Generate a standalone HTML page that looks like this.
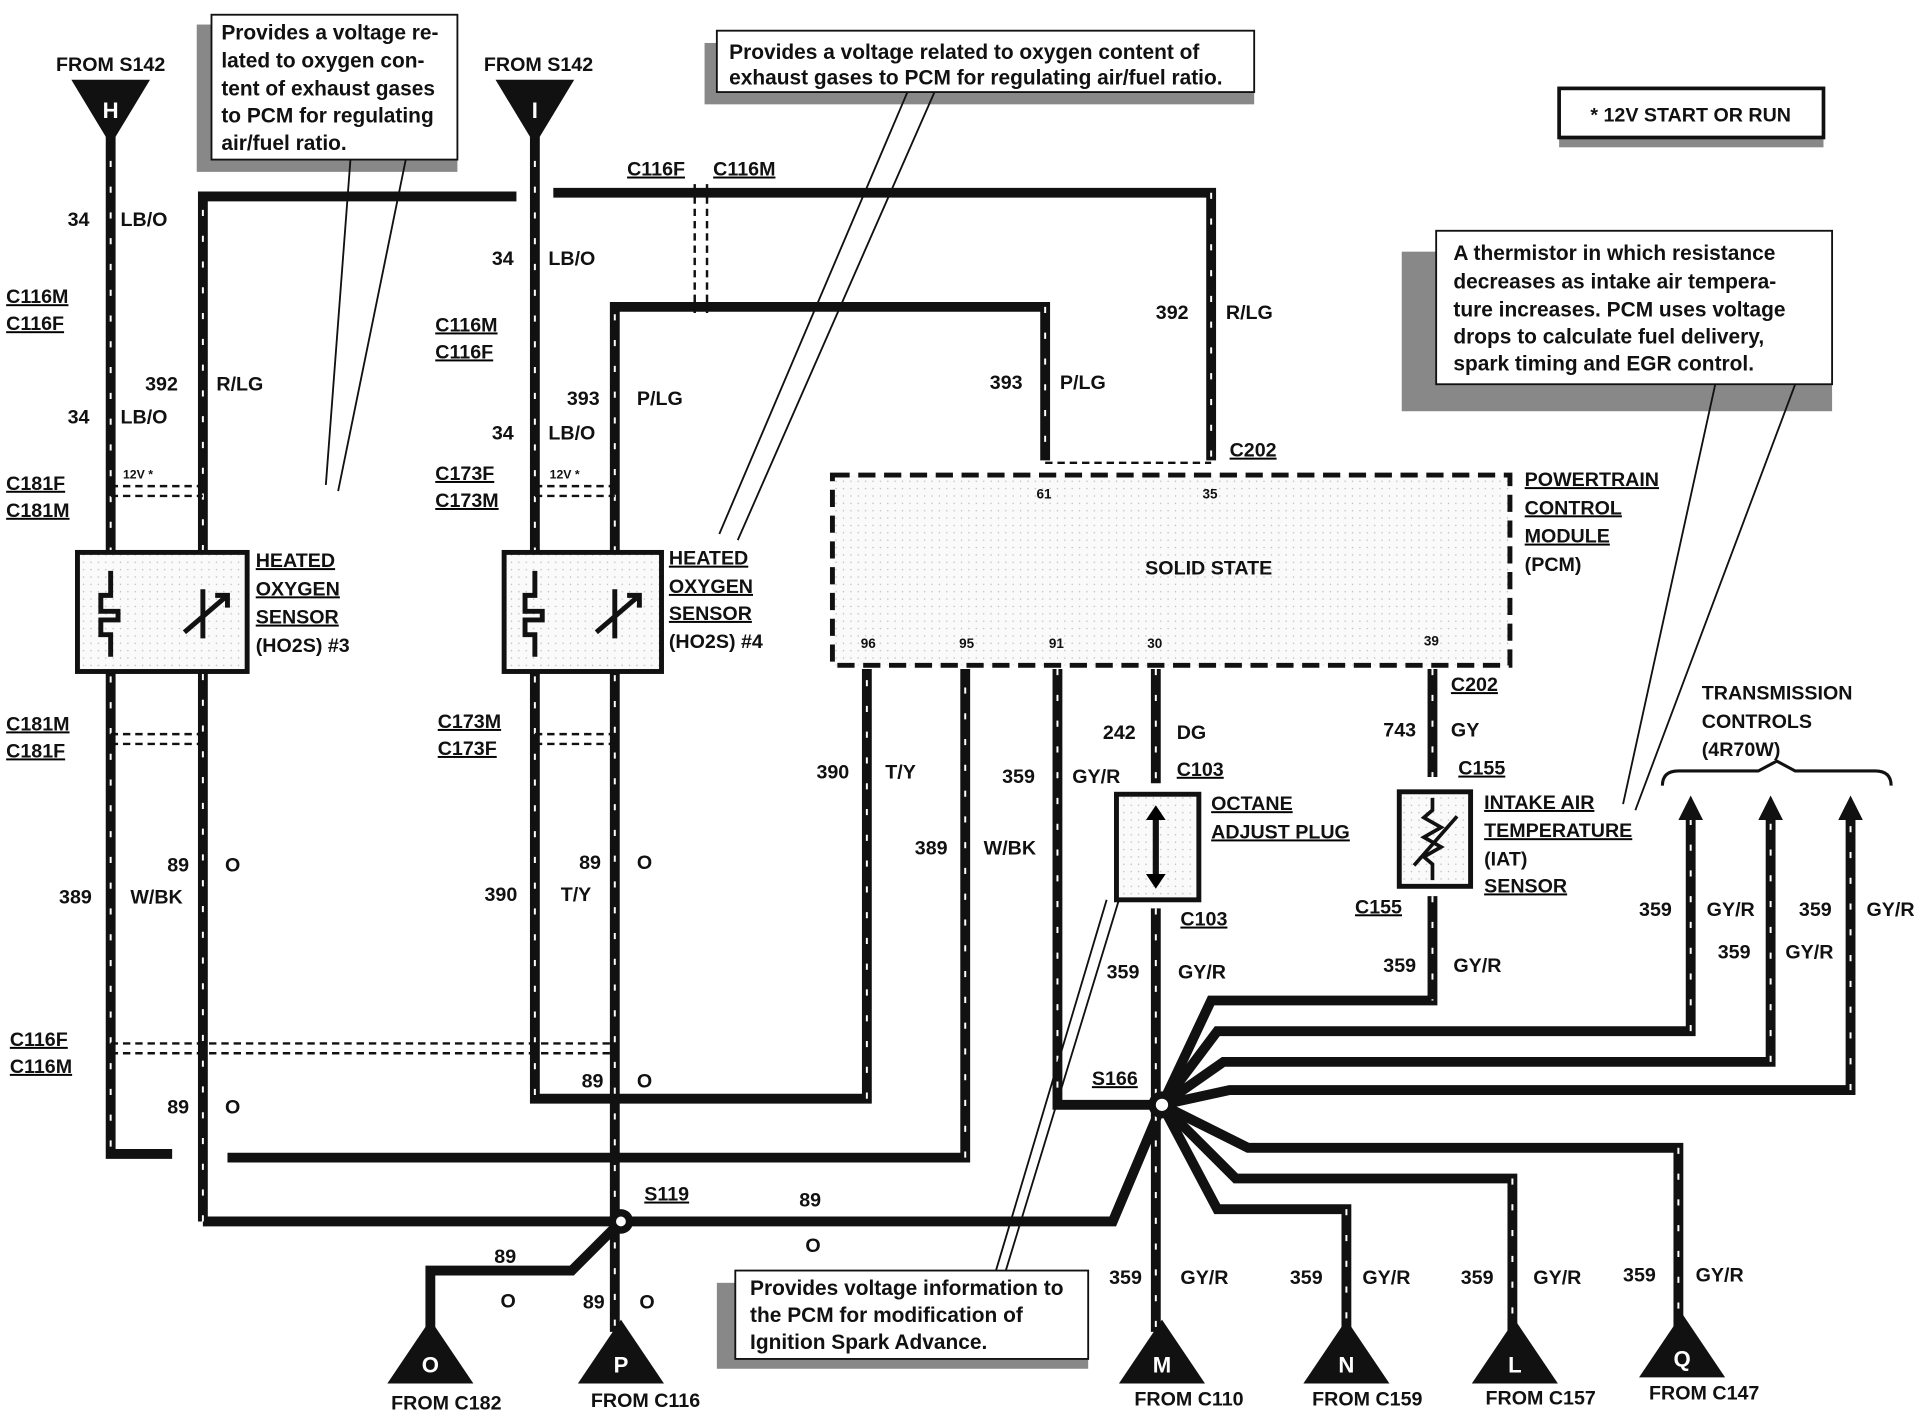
<!DOCTYPE html>
<html><head><meta charset="utf-8"><style>
html,body{margin:0;padding:0;background:#fff}
svg{display:block}
text{font-family:"Liberation Sans",Arial,sans-serif;font-weight:bold;fill:#111}
.w{fill:none;stroke:#111;stroke-width:8;stroke-linejoin:miter}
.d{fill:none;stroke:#fff;stroke-width:1.6;stroke-dasharray:5 16}
.s{font-size:16px}
.n{font-weight:normal;font-size:17px}
</style></head><body>
<svg width="1928" height="1424" viewBox="0 0 1568 1160" preserveAspectRatio="none" xmlns="http://www.w3.org/2000/svg">
<defs><pattern id="sp" width="6" height="6" patternUnits="userSpaceOnUse"><rect width="6" height="6" fill="#fafafa"/><circle cx="2" cy="2" r="0.6" fill="#bbb"/></pattern></defs>
<g id="wires">
<path class="w" d="M90 110V940H140"/>
<path class="w" d="M165 995V160H420"/>
<path class="w" d="M450 157H985V375"/>
<path class="w" d="M435 110V895H705V545"/>
<path class="w" d="M500 1085V250H850V375"/>
<path class="w" d="M185 943H785V545"/>
<path class="w" d="M860 545V900H945"/>
<path class="w" d="M940 545V638"/>
<path class="w" d="M940 740V1085"/>
<path class="w" d="M1165 545V633"/>
<path class="w" d="M1165 730V815H985L945 900"/>
<path class="w" d="M165 995H905L945 900"/>
<path class="w" d="M505 995L465 1035H350V1085"/>
<path class="w" d="M945 900L990 840H1375V665"/>
<path class="w" d="M945 900L995 865H1440V665"/>
<path class="w" d="M945 900L1000 888H1505V665"/>
<path class="w" d="M945 900L1015 935H1365V1085"/>
<path class="w" d="M945 900L1005 960H1230V1085"/>
<path class="w" d="M945 900L990 985H1095V1085"/>
</g>
<g>
<path class="d" d="M90 110V940M165 995V160M435 110V895M500 1080V250M705 895V545M785 943V545M860 545V900M940 740V1085M1165 730V815M1375 840V665M1440 865V665M1505 888V665M1365 935V1085M1230 960V1085M1095 985V1085M1165 545V633M940 545V638M985 157V375M850 250V375"/>
</g>
<g stroke="#111" stroke-width="2" stroke-dasharray="6 4" fill="none">
<path d="M90 396H165M90 404H165M435 396H500M435 404H500M90 598H165M90 606H165M435 598H500M435 606H500M90 850H500M90 858H500M565 150V255M575 150V255M850 377H985"/>
</g>
<g fill="#111"><circle cx="945" cy="900" r="11"/><circle cx="505" cy="995" r="10"/></g>
<circle cx="945" cy="900" r="5" fill="#fff"/><circle cx="505" cy="995" r="4" fill="#fff"/>
<polygon points="58,65 122,65 90,118" fill="#111"/><text x="90" y="96" text-anchor="middle" style="fill:#fff" font-size="18">H</text>
<polygon points="403,65 467,65 435,118" fill="#111"/><text x="435" y="96" text-anchor="middle" style="fill:#fff" font-size="18">I</text>
<text x="90" y="58" text-anchor="middle" class="s">FROM S142</text>
<text x="438" y="58" text-anchor="middle" class="s">FROM S142</text>
<g font-size="18">
<polygon points="315,1127 385,1127 350,1075" fill="#111"/><text x="350" y="1118" text-anchor="middle" style="fill:#fff">O</text>
<polygon points="470,1127 540,1127 505,1075" fill="#111"/><text x="505" y="1118" text-anchor="middle" style="fill:#fff">P</text>
<polygon points="910,1127 980,1127 945,1075" fill="#111"/><text x="945" y="1118" text-anchor="middle" style="fill:#fff">M</text>
<polygon points="1060,1127 1130,1127 1095,1075" fill="#111"/><text x="1095" y="1118" text-anchor="middle" style="fill:#fff">N</text>
<polygon points="1197,1127 1267,1127 1232,1075" fill="#111"/><text x="1232" y="1118" text-anchor="middle" style="fill:#fff">L</text>
<polygon points="1333,1122 1403,1122 1368,1070" fill="#111"/><text x="1368" y="1113" text-anchor="middle" style="fill:#fff">Q</text>
</g>
<g class="s" text-anchor="middle">
<text x="363" y="1148">FROM C182</text><text x="525" y="1146">FROM C116</text>
<text x="967" y="1145">FROM C110</text><text x="1112" y="1145">FROM C159</text>
<text x="1253" y="1144">FROM C157</text><text x="1386" y="1140">FROM C147</text>
</g>
<g fill="#111"><polygon points="1365,668 1385,668 1375,648"/><polygon points="1430,668 1450,668 1440,648"/><polygon points="1495,668 1515,668 1505,648"/></g>
<path d="M1352 640Q1352 628 1365 628H1430L1445 620L1460 628H1525Q1538 628 1538 640" fill="none" stroke="#111" stroke-width="2.5"/>
<rect x="63" y="450" width="138" height="97" fill="url(#sp)" stroke="#111" stroke-width="4"/>
<rect x="410" y="450" width="128" height="97" fill="url(#sp)" stroke="#111" stroke-width="4"/>
<g stroke="#111" stroke-width="4" fill="none">
<path d="M90 465V485H82V498H96V505H82V517H90V535"/><path d="M150 515L185 485M175 485H185V495M165 480V520"/>
<path d="M435 465V485H427V498H441V505H427V517H435V535"/><path d="M485 515L520 485M510 485H520V495M500 480V520"/>
</g>
<rect x="677" y="387" width="551" height="155" fill="url(#sp)" stroke="#111" stroke-width="4" stroke-dasharray="14 7"/>
<text x="983" y="468" text-anchor="middle" class="s">SOLID STATE</text>
<g font-size="11"><text x="843" y="406">61</text><text x="978" y="406">35</text><text x="700" y="528">96</text><text x="780" y="528">95</text><text x="853" y="528">91</text><text x="933" y="528">30</text><text x="1158" y="526">39</text></g>
<rect x="908" y="647" width="67" height="86" fill="url(#sp)" stroke="#111" stroke-width="4"/>
<path d="M940 662V718" stroke="#111" stroke-width="5"/><polygon points="932,668 948,668 940,656"/><polygon points="932,712 948,712 940,724"/>
<rect x="1138" y="645" width="58" height="77" fill="url(#sp)" stroke="#111" stroke-width="4"/>
<path d="M1165 650V660L1158 666L1172 674L1158 682L1172 690L1158 698L1165 704V717M1150 705L1185 665" stroke="#111" stroke-width="3" fill="none"/>
<g fill="#888"><rect x="160" y="20" width="212" height="120"/><rect x="573" y="35" width="447" height="50"/><rect x="1140" y="205" width="350" height="130"/><rect x="583" y="1045" width="302" height="70"/><rect x="1268" y="80" width="215" height="40"/></g>
<g fill="#fff" stroke="#111" stroke-width="1.5"><rect x="172" y="12" width="200" height="118"/><rect x="583" y="25" width="437" height="50"/><rect x="1168" y="188" width="322" height="125"/><rect x="598" y="1035" width="287" height="72"/><rect x="1268" y="72" width="215" height="40" stroke-width="3"/></g>
<g stroke="#111" stroke-width="1.5"><path d="M285 130L265 395M330 130L275 400M738 75L585 435M760 75L600 440M1395 313L1320 655M1460 313L1330 660M910 733L818 1035M900 733L810 1035"/></g>
<g class="n">
<text x="180" y="32">Provides a voltage re-</text><text x="180" y="55">lated to oxygen con-</text><text x="180" y="78">tent of exhaust gases</text><text x="180" y="100">to PCM for regulating</text><text x="180" y="122">air/fuel ratio.</text>
<text x="593" y="48">Provides a voltage related to oxygen content of</text><text x="593" y="69">exhaust gases to PCM for regulating air/fuel ratio.</text>
<text x="1182" y="212">A thermistor in which resistance</text><text x="1182" y="235">decreases as intake air tempera-</text><text x="1182" y="258">ture increases. PCM uses voltage</text><text x="1182" y="280">drops to calculate fuel delivery,</text><text x="1182" y="302">spark timing and EGR control.</text>
<text x="610" y="1055">Provides voltage information to</text><text x="610" y="1077">the PCM for modification of</text><text x="610" y="1099">Ignition Spark Advance.</text>
</g>
<text x="1375" y="99" text-anchor="middle" class="s">* 12V START OR RUN</text>
<g class="s">
<text x="55" y="184">34</text><text x="98" y="184">LB/O</text>
<text x="55" y="345">34</text><text x="98" y="345">LB/O</text>
<text x="118" y="318">392</text><text x="176" y="318">R/LG</text>
<text x="400" y="216">34</text><text x="446" y="216">LB/O</text>
<text x="400" y="358">34</text><text x="446" y="358">LB/O</text>
<text x="461" y="330">393</text><text x="518" y="330">P/LG</text>
<text x="805" y="317">393</text><text x="862" y="317">P/LG</text>
<text x="940" y="260">392</text><text x="997" y="260">R/LG</text>
<text x="48" y="736">389</text><text x="106" y="736">W/BK</text>
<text x="136" y="710">89</text><text x="183" y="710">O</text>
<text x="394" y="734">390</text><text x="456" y="734">T/Y</text>
<text x="471" y="708">89</text><text x="518" y="708">O</text>
<text x="136" y="907">89</text><text x="183" y="907">O</text>
<text x="473" y="886">89</text><text x="518" y="886">O</text>
<text x="664" y="634">390</text><text x="720" y="634">T/Y</text>
<text x="744" y="696">389</text><text x="800" y="696">W/BK</text>
<text x="815" y="638">359</text><text x="872" y="638">GY/R</text>
<text x="897" y="602">242</text><text x="957" y="602">DG</text>
<text x="1125" y="600">743</text><text x="1180" y="600">GY</text>
<text x="900" y="797">359</text><text x="958" y="797">GY/R</text>
<text x="1125" y="792">359</text><text x="1182" y="792">GY/R</text>
<text x="1333" y="746">359</text><text x="1388" y="746">GY/R</text>
<text x="1397" y="781">359</text><text x="1452" y="781">GY/R</text>
<text x="1463" y="746">359</text><text x="1518" y="746">GY/R</text>
<text x="650" y="983">89</text><text x="655" y="1020">O</text>
<text x="402" y="1029">89</text><text x="407" y="1065">O</text>
<text x="474" y="1066">89</text><text x="520" y="1066">O</text>
<text x="902" y="1046">359</text><text x="960" y="1046">GY/R</text>
<text x="1049" y="1046">359</text><text x="1108" y="1046">GY/R</text>
<text x="1188" y="1046">359</text><text x="1247" y="1046">GY/R</text>
<text x="1320" y="1044">359</text><text x="1379" y="1044">GY/R</text>
</g>
<g class="s" text-decoration="underline">
<text x="5" y="247">C116M</text><text x="5" y="269">C116F</text>
<text x="5" y="399">C181F</text><text x="5" y="421">C181M</text>
<text x="5" y="595">C181M</text><text x="5" y="617">C181F</text>
<text x="8" y="852">C116F</text><text x="8" y="874">C116M</text>
<text x="354" y="270">C116M</text><text x="354" y="292">C116F</text>
<text x="354" y="391">C173F</text><text x="354" y="413">C173M</text>
<text x="356" y="593">C173M</text><text x="356" y="615">C173F</text>
<text x="510" y="143">C116F</text><text x="580" y="143">C116M</text>
<text x="1000" y="372">C202</text><text x="1180" y="563">C202</text>
<text x="957" y="632">C103</text><text x="1186" y="631">C155</text>
<text x="960" y="754">C103</text><text x="1102" y="744">C155</text>
<text x="888" y="884">S166</text><text x="524" y="978">S119</text>
<text x="208" y="462">HEATED</text><text x="208" y="485">OXYGEN</text><text x="208" y="508">SENSOR</text>
<text x="544" y="460">HEATED</text><text x="544" y="483">OXYGEN</text><text x="544" y="505">SENSOR</text>
<text x="1240" y="396">POWERTRAIN</text><text x="1240" y="419">CONTROL</text><text x="1240" y="442">MODULE</text>
<text x="985" y="660">OCTANE</text><text x="985" y="683">ADJUST PLUG</text>
<text x="1207" y="659">INTAKE AIR</text><text x="1207" y="682">TEMPERATURE</text><text x="1207" y="727">SENSOR</text>
</g>
<g class="s">
<text x="208" y="531">(HO2S) #3</text><text x="544" y="528">(HO2S) #4</text>
<text x="1240" y="465">(PCM)</text><text x="1207" y="705">(IAT)</text>
<text x="1384" y="570">TRANSMISSION</text><text x="1384" y="593">CONTROLS</text><text x="1384" y="616">(4R70W)</text>
</g>
<g font-size="10"><text x="100" y="390">12V *</text><text x="447" y="390">12V *</text></g>
</svg>
</body></html>
